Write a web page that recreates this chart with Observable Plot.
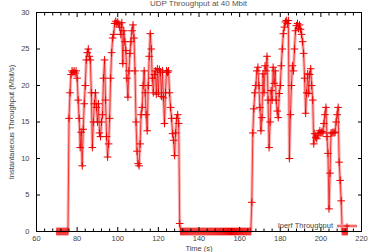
<!DOCTYPE html>
<html><head><meta charset="utf-8">
<script src="https://cdn.jsdelivr.net/npm/d3@7"></script>
<script src="https://cdn.jsdelivr.net/npm/@observablehq/plot@0.6"></script>
<style>
html,body{margin:0;padding:0;background:#fff;}
#wrap{position:relative;width:372px;height:252px;font-family:"Liberation Sans",Arial,sans-serif;}
#title{position:absolute;top:-1px;left:36px;width:325px;text-align:center;font-size:8px;color:#555;}
#legend{position:absolute;left:250px;top:221px;width:110px;height:10px;font-size:7.5px;color:#444;}
</style></head>
<body><div id="wrap"><div id="title">UDP Throughput at 40 Mbit</div><div id="legend"></div></div>
<script>
const title = "UDP Throughput at 40 Mbit";
const seriesName = "Iperf Throughput";
const xLabel = "Time (s)";
const yLabel = "Instantaneous Throughput (Mbit/s)";
const xTicks = [60, 80, 100, 120, 140, 160, 180, 200, 220];
const yTicks = [0, 5, 10, 15, 20, 25, 30];

const time1 = [70,70.5,71,71.5,72,72.5,73,73.5,74,74.5,75,75.5,76,76.5,77,77.5,78,78.5,79,79.5,80,80.5,81,81.5,82,82.5,83,83.5,84,84.5,85,85.5,86,86.5,87,87.5,88,88.5,89,89.5,90,90.5,91,91.5,92,92.5,93,93.5,94,94.5,95,95.5,96,96.5,97,97.5,98,98.5,99,99.5,100,100.5,101,101.5,102,102.5,103,103.5,104,104.5,105,105.5,106,106.5,107,107.5,108,108.5,109,109.5,110,110.5,111,111.5,112,112.5,113,113.5,114,114.5,115,115.5,116,116.5,117,117.5,118,118.5,119,119.5,120,120.5,121,121.5,122,122.5,123,123.5,124,124.5,125,125.5,126,126.5,127,127.5,128,128.5,129,129.5,130,130.5];
const rate1 = [0,0,0,0,0,0,0,0,0,0,0,0,15.5,19,21.5,22,21.8,22,21.7,22,21,18,15.5,11.5,13.6,9,14,17.5,20,23.5,24.5,25,24,23.5,19,11.5,15,17.5,19,17,15,17.5,13.5,13,15,16,21,23.5,18,13,10.2,12,15.5,21,24.5,26.5,27,28.5,28.8,28.5,28.7,28.4,28,27,28.6,23,27.5,26,24.8,21,18.4,22,24.4,26,27.5,28.3,26.5,22,15,11,9.3,9,12,16,17,20,22,19,16,13.8,20,24,27.1,25,21,19,21.5,22,18.8,22.3,19,22.2,21.8,18.5,22,18.3,14.8,19,22,21.8,22,19,17,15.5,13.4,12.5,10.4,13.5,15.5,16,14.8,1.1];
const time2 = [131,131.5,132,132.5,133,133.5,134,134.5,135,135.5,136,136.5,137,137.5,138,138.5,139,139.5,140,140.5,141,141.5,142,142.5,143,143.5,144,144.5,145,145.5,146,146.5,147,147.5,148,148.5,149,149.5,150,150.5,151,151.5,152,152.5,153,153.5,154,154.5,155,155.5,156,156.5,157,157.5,158,158.5,159,159.5,160,160.5,161,161.5,162,162.5,163,163.5,164,164.5,165,165.5];
const rate2 = time2.map(() => 0);
const time3 = [166,166.5,167,167.5,168,168.5,169,169.5,170,170.5,171,171.5,172,172.5,173,173.5,174,174.5,175,175.5,176,176.5,177,177.5,178,178.5,179,179.5,180,180.5,181,181.5,182,182.5,183,183.5,184,184.5,185,185.5,186,186.5,187,187.5,188,188.5,189,189.5,190,190.5,191,191.5,192,192.5,193,193.5,194,194.5,195,195.5,196,196.5,197,197.5,198,198.5,199,199.5,200,200.5,201,201.5,202,202.5,203,203.5,204,204.5,205,205.5,206,206.5,207,207.5,208,208.5,209,209.5,210,210.5,211,211.5,212,212.5,213];
const rate3 = [4,13.5,16.8,19,20,22,22.5,20,17,13.8,15.6,21.6,19,22.7,22,24,18,11.5,15,19.3,18,22.5,20.3,22,18,16.5,15.6,18.9,20,22.7,25,27.1,28,28.7,28.9,28.5,28.9,10,16,20,22.7,22,25,27.5,28.2,28.5,27.8,28.3,27.7,27,26,24.4,21,16.2,19,21.6,18.9,21.5,22.3,20,18,12,13.4,12.9,12.7,13.2,13.5,13.8,13.5,13.7,13.5,14.8,16,17,13,10.7,3.1,8,13.5,13.5,13.6,13.5,13.6,15,16,17,9.5,7,4.2,0,0,0,0,0,0];

const time = [...time1, ...time2, ...time3];
const rate = [...rate1, ...rate2, ...rate3];
const data = time.map((t, i) => ({t, v: rate[i]}));
const minorX = d3.range(60, 221, 4).filter(d => !xTicks.includes(d));
const blank = () => "";

const red = "#ee0000";
const plot = Plot.plot({
  width: 372, height: 252,
  marginLeft: 36, marginRight: 11, marginTop: 12, marginBottom: 21,
  style: {fontFamily: "'Liberation Sans', Arial, sans-serif", fontSize: "7.5px", color: "#444", background: "#fff"},
  x: {domain: [60, 220]},
  y: {domain: [0, 30]},
  marks: [
    Plot.line(data, {x: "t", y: "v", stroke: "#f7a8a8", strokeWidth: 3.2, strokeOpacity: 0.85}),
    Plot.line(data, {x: "t", y: "v", stroke: red, strokeWidth: 0.7}),
    Plot.dot(data, {x: "t", y: "v", symbol: "plus", r: 2.6, stroke: red, strokeWidth: 1}),
    Plot.frame({stroke: "#000", strokeWidth: 1}),
    Plot.axisX({ticks: xTicks, tickSize: 0, tickPadding: 4, label: xLabel, labelAnchor: "center", labelArrow: "none", labelOffset: 19, tickFormat: d => d}),
    Plot.axisX({ticks: xTicks, tickSize: -4, tickFormat: blank, stroke: "#000", label: null}),
    Plot.axisX({ticks: minorX, tickSize: -2.5, tickFormat: blank, stroke: "#000", label: null}),
    Plot.axisX({anchor: "top", ticks: xTicks, tickSize: -4, tickFormat: blank, stroke: "#000", label: null}),
    Plot.axisX({anchor: "top", ticks: minorX, tickSize: -2.5, tickFormat: blank, stroke: "#000", label: null}),
    Plot.axisY({ticks: yTicks, tickSize: 0, tickPadding: 7, label: yLabel, labelAnchor: "center", labelArrow: "none", labelOffset: 28}),
    Plot.axisY({ticks: yTicks, tickSize: -4, tickFormat: blank, stroke: "#000", label: null}),
    Plot.axisY({anchor: "right", ticks: yTicks, tickSize: -4, tickFormat: blank, stroke: "#000", label: null})
  ]
});
document.getElementById("wrap").prepend(plot);
plot.style.position = "absolute"; plot.style.left = "0"; plot.style.top = "0";

const leg = d3.select("#legend");
leg.append("span").text(seriesName)
  .style("position", "absolute").style("right", "27px").style("top", "0px").style("white-space", "nowrap");
const s = leg.append("svg").attr("width", 22).attr("height", 10)
  .style("position", "absolute").style("right", "2px").style("top", "0px");
s.append("line").attr("x1", 1).attr("x2", 21).attr("y1", 5).attr("y2", 5).attr("stroke", "#f7a8a8").attr("stroke-width", 3.2);
s.append("line").attr("x1", 1).attr("x2", 21).attr("y1", 5).attr("y2", 5).attr("stroke", red).attr("stroke-width", 0.7);
s.append("path").attr("d", "M8.4,5h5.2M11,2.4v5.2").attr("stroke", red).attr("stroke-width", 1);
</script></body></html>
